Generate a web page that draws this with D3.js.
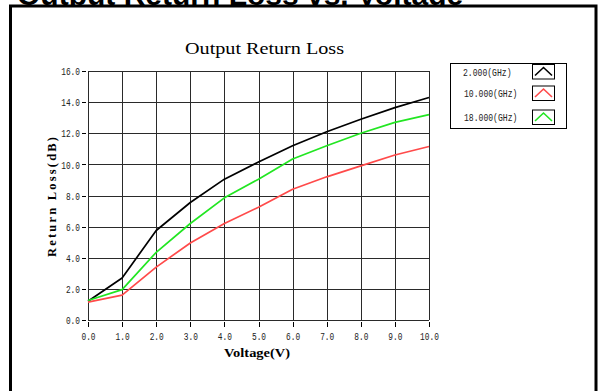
<!DOCTYPE html>
<html>
<head>
<meta charset="utf-8">
<script src="https://cdn.jsdelivr.net/npm/d3@7"></script>
<style>
  html, body { margin: 0; padding: 0; background: #fff; }
  svg { display: block; }
</style>
</head>
<body>
<svg id="chart" width="602" height="391"></svg>
<script>
// Voltage sweep (V)
const voltages = [0, 1, 2, 3, 4, 5, 6, 7, 8, 9, 10];
// Return loss (dB) at each voltage, one array per frequency
const rl2GHz  = [1.2, 2.7, 5.75, 7.55, 9.05, 10.15, 11.2, 12.1, 12.9, 13.65, 14.3];
const rl10GHz = [1.15, 1.6, 3.4, 4.95, 6.2, 7.25, 8.4, 9.2, 9.9, 10.6, 11.15];
const rl18GHz = [1.25, 1.95, 4.35, 6.2, 7.85, 9.05, 10.35, 11.2, 12.0, 12.7, 13.2];
const seriesNames = ["2.000(GHz)", "10.000(GHz)", "18.000(GHz)"];
const seriesColors = ["#000000", "#ff4a4a", "#22e622"];
const xTicks = [0, 1, 2, 3, 4, 5, 6, 7, 8, 9, 10];
const yTicks = [0, 2, 4, 6, 8, 10, 12, 14, 16];

const series = [rl2GHz, rl10GHz, rl18GHz].map((vals, i) => ({
  name: seriesNames[i],
  color: seriesColors[i],
  points: vals.map((v, j) => [voltages[j], v])
}));

const svg = d3.select("#chart");

// outer frame and the page heading running under its top edge
svg.append("text")
  .attr("x", 17).attr("y", 5)
  .attr("font-family", "Liberation Sans, Arial, sans-serif")
  .attr("font-weight", "bold")
  .attr("font-size", 30)
  .attr("fill", "#000")
  .text("Output Return Loss vs. Voltage");

svg.append("rect")
  .attr("x", 10.5).attr("y", 6)
  .attr("width", 585.5).attr("height", 400)
  .attr("fill", "#fff")
  .attr("stroke", "#000")
  .attr("stroke-width", 3);

const x = d3.scaleLinear().domain([0, 10]).range([88, 429]);
const y = d3.scaleLinear().domain([0, 16]).range([320, 71]);

const mono = "Liberation Mono, DejaVu Sans Mono, monospace";
const serif = "Liberation Serif, DejaVu Serif, serif";

// chart title
svg.append("text")
  .attr("x", 185).attr("y", 54)
  .attr("font-family", serif)
  .attr("font-size", 16)
  .attr("textLength", 159)
  .attr("lengthAdjust", "spacingAndGlyphs")
  .text("Output Return Loss");

// grid
const grid = svg.append("g").attr("stroke", "#2a2a2a").attr("stroke-width", 1).attr("shape-rendering", "crispEdges");
grid.selectAll(".vx").data(xTicks).join("line")
  .attr("x1", d => Math.round(x(d)) + 0.5).attr("x2", d => Math.round(x(d)) + 0.5)
  .attr("y1", y(16)).attr("y2", y(0));
grid.selectAll(".hy").data(yTicks).join("line")
  .attr("y1", d => Math.round(y(d)) + 0.5).attr("y2", d => Math.round(y(d)) + 0.5)
  .attr("x1", x(0)).attr("x2", x(10));

// y axis: major ticks with labels, minor ticks every 0.5
const yAxisG = svg.append("g").attr("transform", "translate(86,0)");
yAxisG.call(d3.axisLeft(y).tickValues(d3.range(0, 16.01, 0.5)).tickSize(2.5).tickFormat(""));
yAxisG.call(d3.axisLeft(y).tickValues(yTicks).tickSize(4).tickPadding(2).tickFormat(d3.format(".1f")));
yAxisG.selectAll(".domain").remove();
yAxisG.selectAll("line").attr("stroke", "#000").attr("shape-rendering", "crispEdges");
yAxisG.selectAll("text")
  .attr("font-family", mono).attr("font-size", 11.5).attr("fill", "#222")
  .attr("textLength", function() { return this.textContent.length * 4.7; })
  .attr("lengthAdjust", "spacingAndGlyphs");

// x axis: major ticks with labels, minor ticks every 0.2
const xAxisG = svg.append("g").attr("transform", "translate(0,322)");
xAxisG.call(d3.axisBottom(x).tickValues(d3.range(0, 10.01, 0.2)).tickSize(3).tickFormat(""));
xAxisG.call(d3.axisBottom(x).tickValues(xTicks).tickSize(5).tickPadding(4).tickFormat(d3.format(".1f")));
xAxisG.selectAll(".domain").remove();
xAxisG.selectAll("line").attr("stroke", "#000").attr("shape-rendering", "crispEdges");
xAxisG.selectAll("text")
  .attr("font-family", mono).attr("font-size", 11.5).attr("fill", "#222")
  .attr("y", 17.5).attr("dy", 0)
  .attr("textLength", function() { return this.textContent.length * 4.7; })
  .attr("lengthAdjust", "spacingAndGlyphs");

// axis titles
svg.append("text")
  .attr("x", 257).attr("y", 357)
  .attr("text-anchor", "middle")
  .attr("font-family", serif).attr("font-weight", "bold").attr("font-size", 13)
  .attr("textLength", 66).attr("lengthAdjust", "spacingAndGlyphs")
  .text("Voltage(V)");

svg.append("text")
  .attr("transform", "translate(56,197) rotate(-90)")
  .attr("text-anchor", "middle")
  .attr("font-family", serif).attr("font-weight", "bold").attr("font-size", 12.5)
  .attr("textLength", 120).attr("lengthAdjust", "spacing")
  .text("Return Loss(dB)");

// data lines
const line = d3.line().x(d => x(d[0])).y(d => y(d[1]));
svg.append("g").selectAll("path").data(series).join("path")
  .attr("d", d => line(d.points))
  .attr("fill", "none")
  .attr("stroke", d => d.color)
  .attr("stroke-width", 1.7)
  .attr("stroke-linejoin", "round");

// legend
const legend = svg.append("g");
legend.append("rect")
  .attr("x", 450.5).attr("y", 63.5).attr("width", 116).attr("height", 65)
  .attr("fill", "#fff").attr("stroke", "#000").attr("stroke-width", 1);
const rowY = [71.5, 93, 117];
const items = legend.selectAll(".item").data(series).join("g")
  .attr("transform", (d, i) => `translate(0,${rowY[i]})`);
items.append("text")
  .attr("x", (d, i) => i === 0 ? 463 : 464).attr("y", 4)
  .attr("font-family", mono).attr("font-size", 11.5).attr("fill", "#222")
  .attr("textLength", d => d.name.length * 4.85)
  .attr("lengthAdjust", "spacingAndGlyphs")
  .text(d => d.name);
items.append("rect")
  .attr("x", 532.5).attr("y", -7).attr("width", 22).attr("height", 14.5)
  .attr("fill", "#fff").attr("stroke", "#000").attr("stroke-width", 1);
items.append("path")
  .attr("d", "M535,4 L543.5,-4 L552,4")
  .attr("fill", "none")
  .attr("stroke", d => d.color)
  .attr("stroke-width", 1.6);
</script>
</body>
</html>
